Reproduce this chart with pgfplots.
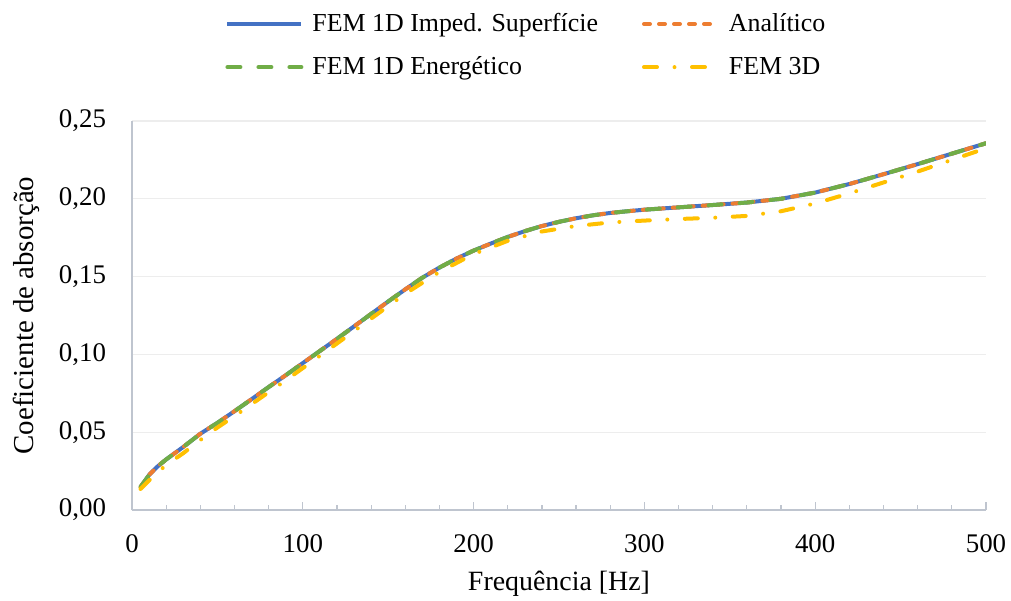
\documentclass[border=0pt]{standalone}
\usepackage{pgfplots}
\pgfplotsset{compat=1.18}
\usepackage{fontspec}
\setmainfont{Liberation Serif}
\definecolor{cblue}{HTML}{4472C4}
\definecolor{corange}{HTML}{ED7D31}
\definecolor{cgreen}{HTML}{70AD47}
\definecolor{cyellow}{HTML}{FFC000}
\definecolor{axgray}{HTML}{BFC5CF}
\definecolor{gridgray}{HTML}{EDEDED}
\pgfplotstableread{
x y
5 0.0148
10 0.0225
15 0.0280
20 0.0325
30 0.0405
40 0.0490
50 0.0560
60 0.0635
70 0.0712
80 0.0790
90 0.0866
100 0.0944
110 0.1022
120 0.1100
130 0.1180
140 0.1260
150 0.1340
160 0.1418
170 0.1493
180 0.1558
190 0.1616
200 0.1667
210 0.1712
220 0.1755
230 0.1792
240 0.1825
250 0.1852
260 0.1875
270 0.1894
280 0.1909
290 0.1920
300 0.1930
320 0.1945
340 0.1960
360 0.1976
380 0.2000
400 0.2040
420 0.2095
440 0.2158
460 0.2223
480 0.2290
500 0.2357
}\tabmain
\pgfplotstableread{
x y
5 0.0135
10 0.0190
20 0.0290
30 0.0365
40 0.0450
50 0.0530
60 0.0603
70 0.0680
80 0.0757
90 0.0833
100 0.0912
120 0.1070
140 0.1230
160 0.1390
180 0.1530
200 0.1645
220 0.1730
240 0.1790
260 0.1825
280 0.1848
300 0.1860
320 0.1870
340 0.1878
360 0.1890
380 0.1920
400 0.1970
420 0.2035
440 0.2105
460 0.2175
480 0.2250
500 0.2325
}\tabthreeD
\begin{document}
\begin{tikzpicture}
\begin{axis}[
  scale only axis,
  width=427bp, height=194.5bp,
  xmin=0, xmax=500, ymin=0, ymax=0.25,
  xtick={0,100,...,500},
  minor x tick num=4,
  ytick={0,0.05,...,0.25},
  axis lines*=left,
  axis line style={axgray, line width=0.8pt},
  every tick/.style={axgray, line width=0.6pt},
  major tick length=4bp, minor tick length=2.5bp,
  tick align=inside,
  ytick style={draw=none},
  ymajorgrids,
  grid style={gridgray, line width=0.6pt},
  tick label style={font=\fontsize{13.5}{16}\selectfont, black},
  /pgf/number format/assume math mode=true,
  yticklabel style={/pgf/number format/.cd, use comma, fixed, fixed zerofill, precision=2, /tikz/.cd, xshift=-9.5bp},
  xticklabel style={/pgf/number format/.cd, fixed, /tikz/.cd, yshift=-9bp},
  xlabel={Frequência [Hz]},
  ylabel={Coeficiente de absorção},
  every axis x label/.style={at={(axis description cs:0.5,-0.19)}, anchor=center, font=\fontsize{14}{16}\selectfont},
  every axis y label/.style={at={(axis description cs:-0.124,0.5)}, anchor=center, rotate=90, font=\fontsize{14.5}{16}\selectfont},
  legend style={at={(0.463,1.09)}, anchor=south, draw=none, fill=none,
    font=\fontsize{13}{15}\selectfont, legend columns=2,
    /tikz/every even column/.append style={column sep=20bp},
    row sep=7bp, legend cell align=left},
  legend image code/.code={\draw[#1] (0bp,0bp) -- (37bp,0bp); \path (39.5bp,0bp);},
]
\addplot[cblue, line width=2bp] table {\tabmain};
\addlegendentry{FEM 1D Imped. Superfície}
\addplot[corange, line width=2bp, line cap=round, dash pattern=on 3bp off 4.5bp] table {\tabmain};
\addlegendentry{Analítico}
\addplot[cgreen, line width=2bp, line cap=round, dash pattern=on 6.5bp off 9bp] table {\tabmain};
\addlegendentry{FEM 1D Energético}
\addplot[cyellow, line width=2bp, line cap=round, dash pattern=on 6.5bp off 8.75bp on 0bp off 8.75bp] table {\tabthreeD};
\addlegendentry{FEM 3D}
\coordinate (bl) at (rel axis cs:0,0);
\coordinate (tr) at (rel axis cs:1,1);
\end{axis}
\pgfresetboundingbox
\path ([shift={(-66bp,-45.5bp)}]bl) rectangle ([shift={(12.5bp,60.5bp)}]tr);
\end{tikzpicture}
\end{document}
